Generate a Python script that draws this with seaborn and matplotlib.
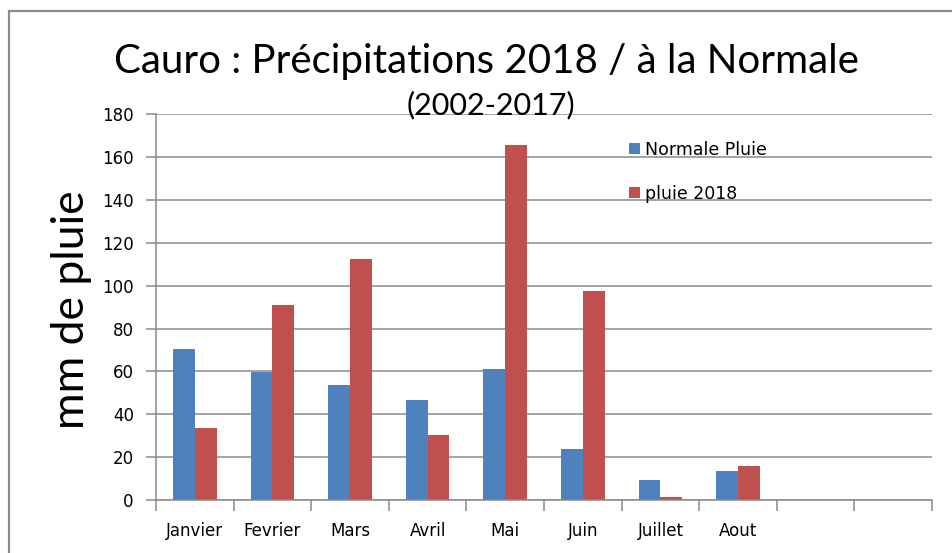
import matplotlib
matplotlib.use("Agg")
import matplotlib.pyplot as plt
from matplotlib.lines import Line2D
import seaborn as sns
import pandas as pd

# ---- data ----
months = ["Janvier", "Fevrier", "Mars", "Avril", "Mai", "Juin", "Juillet", "Aout"]
normale = [70.5, 59.8, 53.5, 46.7, 61.1, 23.6, 9.2, 13.4]
pluie2018 = [33.8, 91.0, 112.7, 30.4, 165.5, 97.7, 1.4, 15.9]
series_names = ["Normale Pluie", "pluie 2018"]
colors = ["#4F81BD", "#C0504D"]
n_slots = 10
yticks = list(range(0, 181, 20))

df = pd.DataFrame({
    "Mois": months * 2,
    "Valeur": normale + pluie2018,
    "Serie": [series_names[0]] * len(months) + [series_names[1]] * len(months),
})

sns.set_theme(style="white")
plt.rcParams['font.family'] = ['DejaVu Sans']
plt.rcParams['text.color'] = 'black'
plt.rcParams['xtick.labelcolor'] = 'black'
plt.rcParams['ytick.labelcolor'] = 'black'

W, H = 952, 553
fig = plt.figure(figsize=(W / 100, H / 100), dpi=100)
fig.patch.set_facecolor("white")

x0, x1, ytop, ybot = 156, 932, 114.3, 500
ax = fig.add_axes([x0 / W, 1 - ybot / H, (x1 - x0) / W, (ybot - ytop) / H])

sns.barplot(data=df, x="Mois", y="Valeur", hue="Serie", order=months,
            hue_order=series_names, palette=colors, width=0.56,
            saturation=1, errorbar=None, ax=ax, linewidth=0)

grey = "#8a8a8a"
ax.set_xlim(-0.5, n_slots - 0.5)
ax.set_ylim(0, 180)
ax.set_yticks(yticks)
ax.set_yticklabels([str(v) for v in yticks], fontsize=12, color="black")
ax.yaxis.grid(True, color=grey, linewidth=1.1)
ax.xaxis.grid(False)
ax.set_axisbelow(True)

ax.set_xticks(range(len(months)))
ax.set_xticklabels(months, fontsize=12, color="black")
ax.set_xticks([i - 0.5 for i in range(n_slots + 1)], minor=True)
ax.tick_params(axis="x", which="major", length=0, pad=16)
ax.tick_params(axis="x", which="minor", length=8, width=1.1, color=grey, direction="out", bottom=True)
ax.tick_params(axis="y", which="major", length=7, width=1.1, color=grey, direction="out", left=True, pad=9)

for s in ["top", "right"]:
    ax.spines[s].set_visible(False)
for s in ["left", "bottom"]:
    ax.spines[s].set_color(grey)
    ax.spines[s].set_linewidth(1.1)

ax.set_xlabel("")
ax.set_ylabel("")

leg = ax.legend(loc="upper left", bbox_to_anchor=((622 - x0) / (x1 - x0), 1 - (134 - ytop) / (ybot - ytop)),
                frameon=False, fontsize=12.5, handlelength=0.62, handleheight=0.62,
                handletextpad=0.3, labelspacing=1.48, borderaxespad=0)
for t in leg.get_texts():
    t.set_color("black")

# titles and axis label
fig.text(486 / W, 1 - 61 / H, "Cauro : Précipitations 2018 / à la Normale",
         ha="center", va="center", fontsize=29, color="black", family=["Lato", "DejaVu Sans"])
fig.text(491 / W, 1 - 105 / H, "(2002-2017)",
         ha="center", va="center", fontsize=22, color="black", family=["Lato", "DejaVu Sans"])
fig.text(72 / W, 1 - 310 / H, "mm de pluie", rotation=90,
         ha="center", va="center", fontsize=32, color="black", family=["Lato", "DejaVu Sans"])

# outer frame of the chart
fig.add_artist(Line2D([9 / W, 9 / W], [0, 1 - 11 / H], transform=fig.transFigure,
                      color=grey, linewidth=1.6))
fig.add_artist(Line2D([9 / W, 1], [1 - 11 / H, 1 - 11 / H], transform=fig.transFigure,
                      color=grey, linewidth=1.6))

fig.savefig("out.png", dpi=100)
